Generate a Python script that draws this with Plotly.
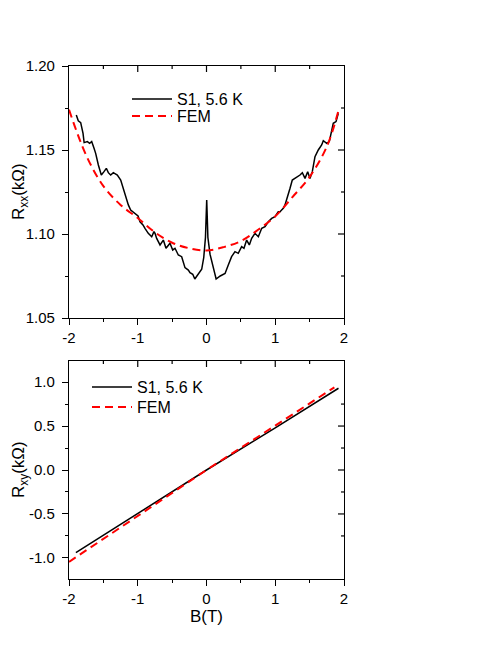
import plotly.graph_objects as go

# --- datos ---
# panel superior: R_xx (kOhm) vs B (T)
b_xx = [-1.894, -1.865, -1.830, -1.796, -1.780, -1.733, -1.700, -1.670, -1.636, -1.612,
        -1.573, -1.549, -1.530, -1.491, -1.457, -1.428, -1.394, -1.355, -1.297, -1.248,
        -1.215, -1.176, -1.137, -1.103, -1.069, -1.030, -0.996, -0.967, -0.943, -0.924,
        -0.895, -0.847, -0.797, -0.764, -0.749, -0.725, -0.676, -0.628, -0.589, -0.531,
        -0.492, -0.458, -0.410, -0.361, -0.313, -0.264, -0.240, -0.200, -0.170, -0.120,
        -0.070, -0.040, -0.015, 0.003, 0.020, 0.051, 0.100, 0.140, 0.200, 0.270,
        0.317, 0.365, 0.414, 0.462, 0.511, 0.545, 0.584, 0.623, 0.657, 0.705,
        0.754, 0.803, 0.851, 0.899, 0.948, 0.996, 1.044, 1.069, 1.093, 1.117,
        1.142, 1.166, 1.190, 1.215, 1.248, 1.312, 1.360, 1.394, 1.433, 1.472,
        1.505, 1.539, 1.578, 1.626, 1.675, 1.699, 1.748, 1.786, 1.821, 1.844,
        1.884, 1.917]
r_xx = [1.1708, 1.1674, 1.1663, 1.1599, 1.1544, 1.1550, 1.1540, 1.1550, 1.1510, 1.1480,
        1.1411, 1.1371, 1.1351, 1.1371, 1.1391, 1.1365, 1.1351, 1.1365, 1.1351, 1.1321,
        1.1272, 1.1222, 1.1173, 1.1143, 1.1133, 1.1123, 1.1108, 1.1073, 1.1063, 1.1054,
        1.1034, 1.1004, 1.0984, 1.1014, 1.1004, 1.0974, 1.0935, 1.0964, 1.0915, 1.0945,
        1.0905, 1.0915, 1.0875, 1.0865, 1.0800, 1.0785, 1.0770, 1.0760, 1.0732, 1.0760,
        1.0790, 1.0860, 1.0980, 1.1202, 1.0980, 1.0880, 1.0790, 1.0732, 1.0750, 1.0765,
        1.0815, 1.0865, 1.0895, 1.0885, 1.0925, 1.0915, 1.0964, 1.0935, 1.0974, 1.1004,
        1.0984, 1.1034, 1.1044, 1.1073, 1.1093, 1.1103, 1.1133, 1.1133, 1.1143, 1.1153,
        1.1173, 1.1202, 1.1242, 1.1272, 1.1321, 1.1337, 1.1351, 1.1365, 1.1331, 1.1371,
        1.1331, 1.1371, 1.1460, 1.1500, 1.1530, 1.1555, 1.1540, 1.1550, 1.1609, 1.1659,
        1.1669, 1.1718]

b_fem_xx = [-2.0, -1.75, -1.5, -1.25, -1.0, -0.75, -0.5, -0.25, 0.0,
            0.25, 0.5, 0.75, 1.0, 1.25, 1.5, 1.75, 1.92]
r_fem_xx = [1.1740, 1.1468, 1.1285, 1.1173, 1.1095, 1.1010, 1.0948, 1.0915, 1.0902,
            1.0922, 1.0958, 1.1025, 1.1105, 1.1220, 1.1340, 1.1520, 1.1735]

# panel inferior: R_xy (kOhm) vs B (T)
b_xy = [-1.90, -1.0, 0.0, 1.0, 1.92]
r_xy = [-0.94, -0.495, 0.0, 0.48, 0.93]
b_fem_xy = [-2.0, -1.0, 0.0, 1.0, 1.86]
r_fem_xy = [-1.045, -0.52, 0.0, 0.505, 0.94]

x_ticks = [-2, -1, 0, 1, 2]
x_ticktext = ['-2', '-1', '0', '1', '2']
x_minor = [-1.5, -0.5, 0.5, 1.5]
yxx_ticks = [1.05, 1.10, 1.15, 1.20]
yxx_ticktext = ['1.05', '1.10', '1.15', '1.20']
yxx_minor = [1.075, 1.125, 1.175]
yxy_ticks = [-1.0, -0.5, 0.0, 0.5, 1.0]
yxy_ticktext = ['-1.0', '-0.5', '0.0', '0.5', '1.0']
yxy_minor = [-0.75, -0.25, 0.25, 0.75]

FONT = 'Liberation Sans, Arial, sans-serif'
# la pagina tiene 8px de margen en el body
OFF = 8
W, H = 498 - OFF, 645 - OFF


def px_x(p):
    return (p - OFF) / W


def px_y(p):
    return 1 - (p - OFF) / H


dom_x = [px_x(69), px_x(344)]
dom_top = [px_y(318), px_y(66)]
dom_bot = [px_y(579), px_y(361)]

fig = go.Figure()

fig.add_trace(go.Scatter(x=b_xx, y=r_xx, mode='lines', name='S1, 5.6 K',
                         line=dict(color='black', width=1.5), xaxis='x', yaxis='y',
                         legend='legend'))
fig.add_trace(go.Scatter(x=b_fem_xx, y=r_fem_xx, mode='lines', name='FEM',
                         line=dict(color='#ff0000', width=2, dash='8px,5px', shape='spline'),
                         xaxis='x', yaxis='y', legend='legend2'))
fig.add_trace(go.Scatter(x=b_xy, y=r_xy, mode='lines', name='S1, 5.6 K',
                         line=dict(color='black', width=1.5), xaxis='x2', yaxis='y2',
                         legend='legend3'))
fig.add_trace(go.Scatter(x=b_fem_xy, y=r_fem_xy, mode='lines', name='FEM',
                         line=dict(color='#ff0000', width=2, dash='8px,5px'),
                         xaxis='x2', yaxis='y2', legend='legend4'))

tick_font = dict(family=FONT, size=15, color='black')
base = dict(showline=True, linecolor='black', linewidth=1.2, mirror=True,
            showgrid=False, zeroline=False, ticklen=6, tickwidth=1.2,
            tickcolor='black', tickfont=tick_font, automargin=False)


def eje_x(anchor, domain):
    return dict(base, domain=domain, anchor=anchor, range=[-2, 2],
                tickmode='array', tickvals=x_ticks, ticktext=x_ticktext,
                ticks='outside',
                minor=dict(tickvals=x_minor, ticks='outside', ticklen=3,
                           tickwidth=1.2, tickcolor='black'))


def eje_y(anchor, domain, rango, vals, texto, menores):
    return dict(base, domain=domain, anchor=anchor, range=rango,
                tickmode='array', tickvals=vals, ticktext=texto, ticks='outside',
                ticklabelstandoff=4,
                minor=dict(tickvals=menores, ticks='outside', ticklen=3,
                           tickwidth=1.2, tickcolor='black'))


rango_xx = [1.05, 1.20]
rango_xy = [-1.24, 1.24]


def leyenda(x, y):
    return dict(x=px_x(x), y=px_y(y), xanchor='left', yanchor='top',
                bgcolor='rgba(0,0,0,0)', font=dict(family=FONT, size=16),
                itemwidth=40)


fig.update_layout(
    width=W, height=H,
    margin=dict(l=0, r=0, t=0, b=0),
    paper_bgcolor='white', plot_bgcolor='white',
    font=dict(family=FONT, size=15, color='black'),
    xaxis=eje_x('y', dom_x),
    yaxis=eje_y('x', dom_top, rango_xx, yxx_ticks, yxx_ticktext, yxx_minor),
    xaxis2=dict(eje_x('y2', dom_x),
                title=dict(text='B(T)', font=dict(family=FONT, size=17), standoff=2)),
    yaxis2=eje_y('x2', dom_bot, rango_xy, yxy_ticks, yxy_ticktext, yxy_minor),
    legend=leyenda(127, 82),
    legend2=leyenda(127, 99),
    legend3=leyenda(87, 370),
    legend4=leyenda(87, 390),
    showlegend=True,
)

# ticks hacia dentro en los ejes superior y derecho
paneles = [('x', 'y', yxx_ticks, yxx_minor), ('x2', 'y2', yxy_ticks, yxy_minor)]
for xr, yr, yt, ym in paneles:
    for v, largo in [(t, 6) for t in x_ticks[1:-1]] + [(t, 3) for t in x_minor]:
        fig.add_shape(type='line', xref=xr, yref=yr + ' domain', ysizemode='pixel',
                      yanchor=1, x0=v, x1=v, y0=0, y1=-largo,
                      line=dict(color='black', width=1.2))
    for v, largo in [(t, 6) for t in yt[1:-1]] + [(t, 3) for t in ym]:
        fig.add_shape(type='line', yref=yr, xref=xr + ' domain', xsizemode='pixel',
                      xanchor=1, y0=v, y1=v, x0=0, x1=-largo,
                      line=dict(color='black', width=1.2))

fig.add_annotation(text='R<sub>xx</sub>(kΩ)', textangle=-90, xref='paper', yref='paper',
                   x=px_x(20), y=px_y(192), xanchor='center', yanchor='middle',
                   showarrow=False, font=dict(family=FONT, size=17))
fig.add_annotation(text='R<sub>xy</sub>(kΩ)', textangle=-90, xref='paper', yref='paper',
                   x=px_x(20), y=px_y(470), xanchor='center', yanchor='middle',
                   showarrow=False, font=dict(family=FONT, size=17))

fig.write_html("out.html")
